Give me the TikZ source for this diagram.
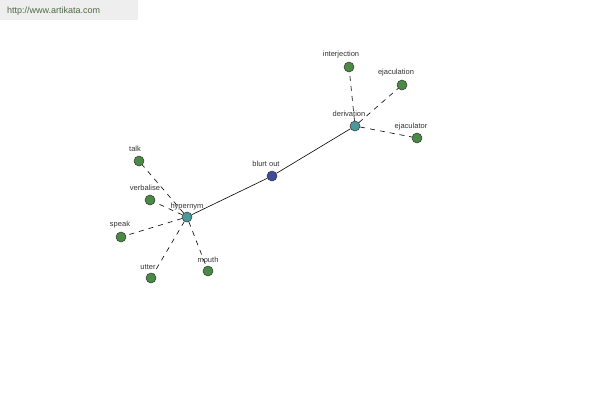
\documentclass[tikz,border=0pt]{standalone}
\usepackage{fontspec}
\setmainfont{Liberation Sans}
\definecolor{leaf}{HTML}{4A8A44}
\definecolor{hub}{HTML}{4A9A9C}
\definecolor{root}{HTML}{3F4C9C}
\definecolor{banner}{HTML}{EEEEEE}
\definecolor{urltext}{HTML}{4F6A44}
\definecolor{labtext}{HTML}{333333}
\tikzset{
  dot/.style={circle,draw=black!80,line width=0.5pt,inner sep=0pt,minimum size=10pt},
  leafdot/.style={dot,fill=leaf},
  hubdot/.style={dot,fill=hub},
  rootdot/.style={dot,fill=root},
  lab/.style={font=\fontsize{7.5}{8}\selectfont,text=labtext,inner sep=0.5pt},
  rel/.style={black,line width=0.6pt,dash pattern=on 5pt off 5pt},
  main/.style={black,line width=0.6pt}
}
\begin{document}
\begin{tikzpicture}[x=1pt,y=-1pt]
\useasboundingbox[fill=white] (0,0) rectangle (600,400);
\fill[banner] (0,0) rectangle (138,20);
\node[anchor=west,font=\fontsize{9}{10}\selectfont,text=urltext,inner sep=0pt] (url) at (7,11) {http://www.artikata.com};
% nodes
\node[rootdot] (blurt) at (272,176) {};
\node[hubdot] (deriv) at (355,126) {};
\node[hubdot] (hyper) at (187,217) {};
\node[leafdot] (interj) at (349,67) {};
\node[leafdot] (ejacn) at (402,85) {};
\node[leafdot] (ejacr) at (417,138) {};
\node[leafdot] (talk) at (139,161) {};
\node[leafdot] (verb) at (150,200) {};
\node[leafdot] (speak) at (121,237) {};
\node[leafdot] (utter) at (151,278) {};
\node[leafdot] (mouth) at (208,271) {};
% edges
\draw[main] (hyper) -- (blurt);
\draw[main] (blurt) -- (deriv);
\draw[rel] (deriv) -- (interj);
\draw[rel] (deriv) -- (ejacn);
\draw[rel] (deriv) -- (ejacr);
\draw[rel] (hyper) -- (talk);
\draw[rel] (hyper) -- (verb);
\draw[rel] (hyper) -- (speak);
\draw[rel] (hyper) -- (utter);
\draw[rel] (hyper) -- (mouth);
% labels
\node[lab] (lblurt) at (266,164) {blurt out};
\node[lab] (lderiv) at (349,114) {derivation};
\node[lab] (lhyper) at (187,207) {hypernym};
\node[lab] (linterj) at (341,55) {interjection};
\node[lab] (lejacn) at (396,73) {ejaculation};
\node[lab] (lejacr) at (411,127) {ejaculator};
\node[lab] (ltalk) at (135,149) {talk};
\node[lab] (lverb) at (145,188) {verbalise};
\node[lab] (lspeak) at (120,225) {speak};
\node[lab] (lutter) at (148,267) {utter};
\node[lab] (lmouth) at (208,260) {mouth};
\end{tikzpicture}
\end{document}
